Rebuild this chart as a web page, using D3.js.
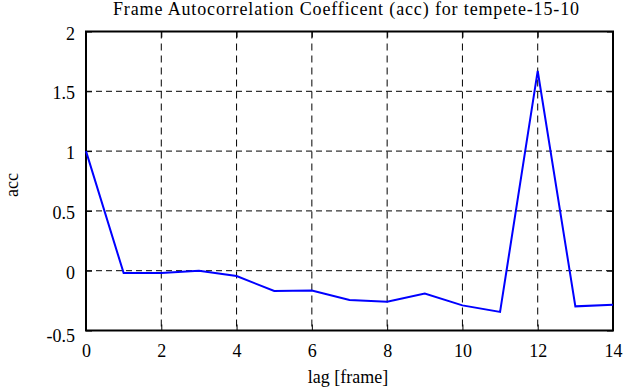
<!DOCTYPE html>
<html>
<head>
<meta charset="utf-8">
<script src="https://cdn.jsdelivr.net/npm/d3@7"></script>
<style>
  body { margin: 0; background: #fff; }
  svg text { font-family: "Liberation Serif", "Times New Roman", Times, "DejaVu Serif", serif; fill: #000; }
</style>
</head>
<body>
<div id="chart"></div>
<script>
// lag values and the autocorrelation
var lags = [0, 1, 2, 3, 4, 5, 6, 7, 8, 9, 10, 11, 12, 13, 14];
var acc = [1.0, -0.02, -0.02, 0.0, -0.045, -0.17, -0.165, -0.245, -0.26, -0.19, -0.29, -0.345, 1.67, -0.298, -0.285];
var xTicks = [0, 2, 4, 6, 8, 10, 12, 14];
var yTicks = [-0.5, 0, 0.5, 1, 1.5, 2];

var width = 641, height = 387;
var margin = {top: 31.5, right: 28, bottom: 56.5, left: 86};
var serif = '"Liberation Serif", "Times New Roman", Times, serif';

var svg = d3.select("#chart").append("svg")
  .attr("width", width).attr("height", height);

var x = d3.scaleLinear().domain([0, 14]).range([margin.left, width - margin.right]);
var y = d3.scaleLinear().domain([-0.5, 2]).range([height - margin.bottom, margin.top]);

//grid
var grid = svg.append("g").attr("class", "grid");
grid.selectAll("line.vx").data(xTicks.slice(1, -1)).enter().append("line")
  .attr("x1", function(d){return x(d)}).attr("x2", function(d){return x(d)})
  .attr("y1", y(2)).attr("y2", y(-0.5))
  .attr("stroke", "#000").attr("stroke-width", 1).attr("stroke-dasharray", "7,5");
grid.selectAll("line.hy").data(yTicks.slice(1, -1)).enter().append("line")
  .attr("y1", function(d){return y(d)}).attr("y2", function(d){return y(d)})
  .attr("x1", x(0)).attr("x2", x(14))
  .attr("stroke", "#000").attr("stroke-width", 1).attr("stroke-dasharray", "6,4");

//axes, ticks pointing inside
svg.append("g").attr("class", "xaxis").attr("transform", "translate(0," + y(-0.5) + ")")
  .call(d3.axisBottom(x).tickValues(xTicks).tickSize(-6).tickPadding(12).tickFormat(d3.format("d")));
svg.append("g").attr("class", "yaxis").attr("transform", "translate(" + x(0) + ",0)")
  .call(d3.axisLeft(y).tickValues(yTicks).tickSize(-6).tickPadding(11).tickFormat(function(d){return String(d)}));
svg.append("g").attr("transform", "translate(" + x(14) + ",0)")
  .call(d3.axisRight(y).tickValues(yTicks).tickSize(-6).tickFormat(""));
svg.append("g").attr("transform", "translate(0," + y(2) + ")")
  .call(d3.axisTop(x).tickValues(xTicks).tickSize(-6).tickFormat(""));

svg.selectAll("g").attr("font-family", null);
svg.selectAll(".domain").remove();
svg.selectAll(".tick line").attr("stroke", "#000").attr("stroke-width", 1);
svg.selectAll(".tick text").style("font-size", "18px").style("font-family", serif);
svg.selectAll(".yaxis .tick text").attr("dy", function(d){return d === -0.5 ? "0.62em" : "0.42em"});
svg.selectAll(".xaxis .tick text").attr("dy", "0.78em");

//frame
svg.append("rect")
  .attr("x", x(0)).attr("y", y(2))
  .attr("width", x(14) - x(0)).attr("height", y(-0.5) - y(2))
  .attr("fill", "none").attr("stroke", "#000").attr("stroke-width", 2);

//data line
var line = d3.line().x(function(d, i){return x(lags[i])}).y(function(d){return y(d)});
svg.append("path").datum(acc)
  .attr("d", line)
  .attr("fill", "none").attr("stroke", "#0000ff").attr("stroke-width", 2);

//labels
svg.append("text").attr("x", 113).attr("y", 14.5)
  .attr("textLength", 466).attr("lengthAdjust", "spacing")
  .style("font-size", "18px").style("font-family", serif)
  .text("Frame Autocorrelation Coefficent (acc) for tempete-15-10");
svg.append("text").attr("x", 348).attr("y", 383).attr("text-anchor", "middle")
  .style("font-size", "18px").style("font-family", serif).text("lag [frame]");
svg.append("text").attr("transform", "translate(18,185) rotate(-90)").attr("text-anchor", "middle")
  .style("font-size", "18px").style("font-family", serif).text("acc");
</script>
</body>
</html>
